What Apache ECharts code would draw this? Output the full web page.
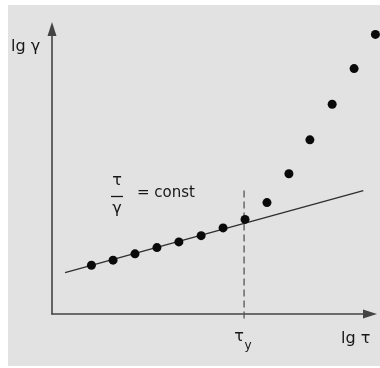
<!DOCTYPE html>
<html>
<head>
<meta charset="utf-8">
<script src="https://cdn.jsdelivr.net/npm/echarts@6/dist/echarts.min.js"></script>
<style>
  html, body { margin: 0; padding: 0; background: #ffffff; }
  #chart { width: 380px; height: 368px; }
</style>
</head>
<body>
<div id="chart"></div>
<script>
// Flow curve in log-log coordinates: lg γ against lg τ (arbitrary units)
const lgTau   = [1.24, 1.92, 2.61, 3.30, 3.99, 4.69, 5.38, 6.07, 6.76, 7.45, 8.11, 8.81, 9.50, 10.17];
const lgGamma = [1.71, 1.89, 2.11, 2.33, 2.53, 2.75, 3.02, 3.32, 3.91, 4.92, 6.11, 7.36, 8.61, 9.81];

// Newtonian line τ/γ = const
const constLineTau   = [0.41, 9.79];
const constLineGamma = [1.45, 4.33];

// Yield stress marker
const tauYield = 6.04;
const yieldLineGamma = [4.33, -0.21];

const axisColor = '#444444';
const textColor = '#161616';
const fontFamily = 'DejaVu Sans, sans-serif';

const chart = echarts.init(document.getElementById('chart'));

chart.setOption({
  animation: false,
  backgroundColor: '#ffffff',
  grid: { left: 52, right: 10, top: 29, bottom: 54 },
  xAxis: {
    type: 'value', min: 0, max: 10,
    axisLine: { show: true, symbol: ['none', 'triangle'], symbolSize: [9, 14],
      lineStyle: { color: axisColor, width: 1.6 } },
    axisTick: { show: false }, axisLabel: { show: false }, splitLine: { show: false }
  },
  yAxis: {
    type: 'value', min: 0, max: 10,
    axisLine: { show: true, symbol: ['none', 'triangle'], symbolSize: [9, 14],
      lineStyle: { color: axisColor, width: 1.6 } },
    axisTick: { show: false }, axisLabel: { show: false }, splitLine: { show: false }
  },
  series: [
    {
      type: 'line',
      data: constLineTau.map((t, i) => [t, constLineGamma[i]]),
      symbol: 'none', clip: false,
      lineStyle: { color: '#2e2e2e', width: 1.3 },
      z: 2
    },
    {
      type: 'line',
      data: yieldLineGamma.map(g => [tauYield, g]),
      symbol: 'none', clip: false,
      lineStyle: { color: '#555555', width: 1.3, type: [7, 4] },
      z: 2
    },
    {
      type: 'scatter',
      data: lgTau.map((t, i) => [t, lgGamma[i]]),
      symbol: 'circle', symbolSize: 9, clip: false,
      itemStyle: { color: '#0a0a0a', opacity: 1 },
      z: 3
    }
  ]
});

// Annotations placed relative to the axes
const origin = chart.convertToPixel({ gridIndex: 0 }, [0, 0]);
const yieldPx = chart.convertToPixel({ gridIndex: 0 }, [tauYield, 0]);

function label(text, x, y, size, align) {
  return {
    type: 'text', x: x, y: y, z: 10,
    style: { text: text, fill: textColor, font: size + 'px ' + fontFamily,
      align: align || 'left', verticalAlign: 'middle' }
  };
}

chart.setOption({
  graphic: [
    { type: 'rect', shape: { x: 8, y: 5, width: 372, height: 361 },
      style: { fill: '#e2e2e2' }, z: -10, silent: true },
    label('lg γ', 11, 47, 16),
    label('lg τ', 341, 339, 16),
    label('τ', yieldPx[0] - 5, origin[1] + 23, 16, 'center'),
    label('y', yieldPx[0] + 4, origin[1] + 32, 12, 'center'),
    label('τ', 117, 181, 16, 'center'),
    { type: 'line', shape: { x1: 111, y1: 196.5, x2: 123, y2: 196.5 },
      style: { stroke: textColor, lineWidth: 1.3 }, z: 10 },
    label('γ', 117, 209, 16, 'center'),
    label('= const', 137, 193, 15)
  ]
});
</script>
</body>
</html>
